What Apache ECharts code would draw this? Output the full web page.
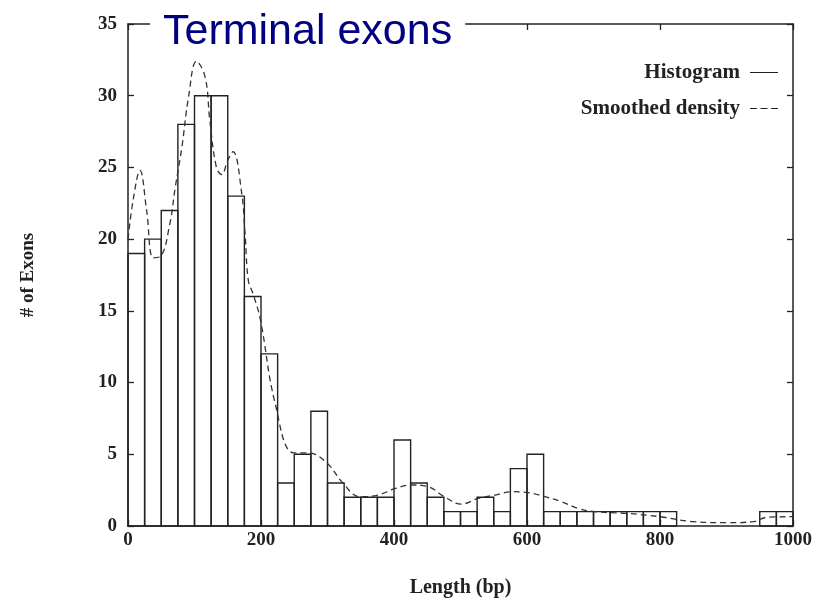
<!DOCTYPE html>
<html>
<head>
<meta charset="utf-8">
<script src="https://cdn.jsdelivr.net/npm/echarts@6/dist/echarts.min.js"></script>
<style>
  html, body { margin: 0; padding: 0; background: #fff; }
  #main { width: 828px; height: 599px; }
</style>
</head>
<body>
<div id="main"></div>
<script>
// histogram bins (left edge, bp) and exon counts, 25 bp wide
var binWidth = 25;
var binStart = [0, 25, 50, 75, 100, 125, 150, 175, 200, 225,
                250, 275, 300, 325, 350, 375, 400, 425, 450, 475,
                500, 525, 550, 575, 600, 625, 650, 675, 700, 725,
                750, 775, 800, 825, 850, 875, 900, 925, 950, 975];
var binCount = [19, 20, 22, 28, 30, 30, 23, 16, 12, 3,
                5, 8, 3, 2, 2, 2, 6, 3, 2, 1,
                1, 2, 1, 4, 5, 1, 1, 1, 1, 1,
                1, 1, 1, 0, 0, 0, 0, 0, 1, 1];

// smoothed density curve
var densX = [0, 8, 18, 28, 38, 49, 63, 71, 81, 91, 103, 116, 123, 133, 141, 150, 158, 171, 176,
             181, 188, 199, 221, 249, 271, 299, 323, 349, 376, 401, 426, 451, 476, 501, 527,
             552, 577, 602, 627, 652, 677, 702, 750, 800, 850, 900, 940, 960, 1000];
var densY = [20, 22.8, 24.8, 22, 18.7, 18.8, 21.1, 23.6, 26.4, 29.9, 32.4, 31.3, 28.3, 25, 24.5, 25.5, 26.1, 23.2, 20.4,
             17.1, 16.2, 14.4, 8.6, 5.1, 5.1, 4.4, 3, 2.04, 2.16, 2.6, 2.86, 2.74, 2.04, 1.53, 1.93,
             2.16, 2.39, 2.32, 2.04, 1.69, 1.23, 1.0, 0.88, 0.65, 0.3, 0.23, 0.3, 0.6, 0.65];

var xTicks = { min: 0, max: 1000, step: 200 };
var yTicks = { min: 0, max: 35, step: 5 };

var ink = '#222';
var serif = 'Liberation Serif';

var histData = binStart.map(function (x, i) { return [x, x + binWidth, binCount[i]]; });
var densData = densX.map(function (x, i) { return [x, densY[i]]; });

var chart = echarts.init(document.getElementById('main'));

function axisCommon(showLabel) {
  return {
    axisLine: { show: true, onZero: false, lineStyle: { color: ink, width: 1.5 } },
    axisTick: { show: true, inside: true, length: 6, lineStyle: { color: ink, width: 1.3 } },
    splitLine: { show: false },
    axisLabel: {
      show: showLabel, color: ink, fontFamily: serif, fontWeight: 'bold', fontSize: 19,
      formatter: function (v) { return String(v); }
    }
  };
}

var xMain = Object.assign(axisCommon(true), {
  type: 'value', position: 'bottom',
  min: xTicks.min, max: xTicks.max, interval: xTicks.step,
  name: 'Length (bp)', nameLocation: 'middle', nameGap: 52,
  nameTextStyle: { color: ink, fontFamily: serif, fontWeight: 'bold', fontSize: 20 }
});
xMain.axisLabel.margin = 5;
var xTop = Object.assign(axisCommon(false), {
  type: 'value', position: 'top', min: xTicks.min, max: xTicks.max, interval: xTicks.step
});
var yMain = Object.assign(axisCommon(true), {
  type: 'value', position: 'left',
  min: yTicks.min, max: yTicks.max, interval: yTicks.step,
  name: '# of Exons', nameLocation: 'middle', nameGap: 90,
  nameTextStyle: { color: ink, fontFamily: serif, fontWeight: 'bold', fontSize: 19 }
});
yMain.axisLabel.margin = 11;
var yRight = Object.assign(axisCommon(false), {
  type: 'value', position: 'right', min: yTicks.min, max: yTicks.max, interval: yTicks.step
});

chart.setOption({
  backgroundColor: '#fff',
  animation: false,
  title: {
    text: 'Terminal exons',
    left: 150, top: 9,
    backgroundColor: '#fff',
    padding: [2, 13, 4, 13],
    z: 10,
    textStyle: { color: '#000080', fontFamily: 'Liberation Sans', fontWeight: 'normal', fontSize: 43 }
  },
  legend: {
    orient: 'vertical',
    right: 45, top: 57,
    align: 'right',
    itemWidth: 28, itemHeight: 2, itemGap: 15,
    textStyle: { color: ink, fontFamily: serif, fontWeight: 'bold', fontSize: 21, padding: [0, 5, 0, 0] },
    data: [
      { name: 'Histogram', icon: 'path://M0,0H28V1H0Z', itemStyle: { color: ink } },
      { name: 'Smoothed density', icon: 'path://M0,0H7V1H0Z M10.5,0H17.5V1H10.5Z M21,0H28V1H21Z', itemStyle: { color: ink } }
    ]
  },
  grid: { left: 128, right: 35, top: 24, bottom: 73, show: false, outerBoundsMode: 'none', containLabel: false },
  xAxis: [xMain, xTop],
  yAxis: [yMain, yRight],
  series: [
    {
      name: 'Histogram',
      type: 'custom',
      xAxisIndex: 0, yAxisIndex: 0,
      itemStyle: { color: ink },
      encode: { x: [0, 1], y: 2 },
      data: histData,
      renderItem: function (params, api) {
        if (api.value(2) <= 0) return null;
        var p0 = api.coord([api.value(0), api.value(2)]);
        var p1 = api.coord([api.value(1), 0]);
        return {
          type: 'rect',
          shape: { x: p0[0], y: p0[1], width: p1[0] - p0[0], height: p1[1] - p0[1] },
          style: { fill: 'none', stroke: ink, lineWidth: 1.4 }
        };
      }
    },
    {
      name: 'Smoothed density',
      type: 'line',
      xAxisIndex: 0, yAxisIndex: 0,
      data: densData,
      smooth: 0.4,
      symbol: 'none',
      z: 3,
      itemStyle: { color: '#333' },
      lineStyle: { color: '#333', width: 1.3, type: [6, 4] }
    }
  ]
});
</script>
</body>
</html>
